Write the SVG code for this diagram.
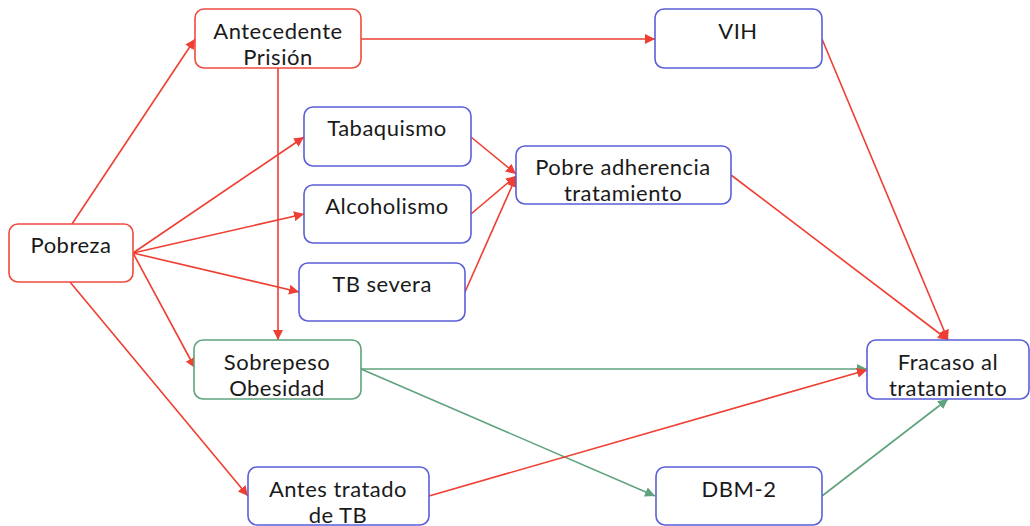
<svg xmlns="http://www.w3.org/2000/svg" width="1030" height="526" viewBox="0 0 1030 526">
  <style>
    .node rect { fill: #ffffff; stroke-width: 1.6; }
    .red rect { stroke: #ef4b3f; }
    .blue rect { stroke: #5b5fd8; }
    .green rect { stroke: #5fa27e; }
    .node text { font-family: Lato, "Noto Sans", sans-serif; font-size: 22px; letter-spacing: 0.5px; fill: #1a1a1a; text-anchor: middle; }
    .edge { fill: none; stroke-width: 1.6; }
    .r { stroke: #ef3e32; }
    .g { stroke: #5fa27e; }
  </style>
  <defs>
    <marker id="ar" viewBox="0 0 10 10" refX="10" refY="5" markerWidth="10" markerHeight="10" markerUnits="userSpaceOnUse" orient="auto">
      <path d="M0,0 L10,5 L0,10 Z" fill="#ef3e32"/>
    </marker>
    <marker id="ag" viewBox="0 0 10 10" refX="10" refY="5" markerWidth="10" markerHeight="10" markerUnits="userSpaceOnUse" orient="auto">
      <path d="M0,0 L10,5 L0,10 Z" fill="#5fa27e"/>
    </marker>
  </defs>

  <g id="connectors">
    <line class="edge r" x1="72" y1="224" x2="195" y2="39" marker-end="url(#ar)"/>
    <line class="edge r" x1="133" y1="253" x2="304" y2="137" marker-end="url(#ar)"/>
    <line class="edge r" x1="133" y1="253" x2="304" y2="214" marker-end="url(#ar)"/>
    <line class="edge r" x1="133" y1="253" x2="299" y2="292" marker-end="url(#ar)"/>
    <line class="edge r" x1="133" y1="253" x2="195" y2="368" marker-end="url(#ar)"/>
    <line class="edge r" x1="70" y1="282" x2="248" y2="496" marker-end="url(#ar)"/>
    <line class="edge r" x1="278" y1="68" x2="278" y2="340" marker-end="url(#ar)"/>
    <line class="edge r" x1="361" y1="39" x2="655" y2="39" marker-end="url(#ar)"/>
    <line class="edge r" x1="471" y1="137" x2="516" y2="174" marker-end="url(#ar)"/>
    <line class="edge r" x1="471" y1="214" x2="516" y2="176" marker-end="url(#ar)"/>
    <line class="edge r" x1="465" y1="292" x2="516" y2="177" marker-end="url(#ar)"/>
    <line class="edge r" x1="731" y1="175" x2="948" y2="340" marker-end="url(#ar)"/>
    <line class="edge r" x1="822" y1="39" x2="948" y2="340" marker-end="url(#ar)"/>
    <line class="edge g" x1="361" y1="369" x2="867" y2="369" marker-end="url(#ag)"/>
    <line class="edge g" x1="361" y1="369" x2="655" y2="496" marker-end="url(#ag)"/>
    <line class="edge r" x1="429" y1="496" x2="867" y2="370" marker-end="url(#ar)"/>
    <line class="edge g" x1="822" y1="496" x2="948" y2="399" marker-end="url(#ag)"/>
  </g>

  <g id="pobreza" class="node red">
    <rect x="9" y="224" width="124" height="58" rx="9"/>
    <text x="71" y="253">Pobreza</text>
  </g>
  <g id="antecedente-prision" class="node red">
    <rect x="195" y="9" width="166" height="59" rx="9"/>
    <text x="278" y="39">Antecedente</text>
    <text x="278" y="65">Prisión</text>
  </g>
  <g id="vih" class="node blue">
    <rect x="655" y="9" width="167" height="59" rx="9"/>
    <text x="738" y="39">VIH</text>
  </g>
  <g id="tabaquismo" class="node blue">
    <rect x="304" y="107" width="167" height="59" rx="9"/>
    <text x="387" y="136">Tabaquismo</text>
  </g>
  <g id="alcoholismo" class="node blue">
    <rect x="304" y="185" width="167" height="58" rx="9"/>
    <text x="387" y="214">Alcoholismo</text>
  </g>
  <g id="tb-severa" class="node blue">
    <rect x="299" y="263" width="166" height="58" rx="9"/>
    <text x="382" y="292">TB severa</text>
  </g>
  <g id="pobre-adherencia" class="node blue">
    <rect x="516" y="146" width="215" height="58" rx="9"/>
    <text x="623" y="175">Pobre adherencia</text>
    <text x="623" y="201">tratamiento</text>
  </g>
  <g id="sobrepeso-obesidad" class="node green">
    <rect x="194" y="340" width="167" height="59" rx="9"/>
    <text x="277" y="370">Sobrepeso</text>
    <text x="277" y="396">Obesidad</text>
  </g>
  <g id="antes-tratado" class="node blue">
    <rect x="248" y="467" width="181" height="58" rx="9"/>
    <text x="338" y="497">Antes tratado</text>
    <text x="338" y="523">de TB</text>
  </g>
  <g id="dbm-2" class="node blue">
    <rect x="656" y="467" width="166" height="58" rx="9"/>
    <text x="739" y="497">DBM-2</text>
  </g>
  <g id="fracaso" class="node blue">
    <rect x="867" y="340" width="162" height="59" rx="9"/>
    <text x="948" y="370">Fracaso al</text>
    <text x="948" y="396">tratamiento</text>
  </g>
</svg>
